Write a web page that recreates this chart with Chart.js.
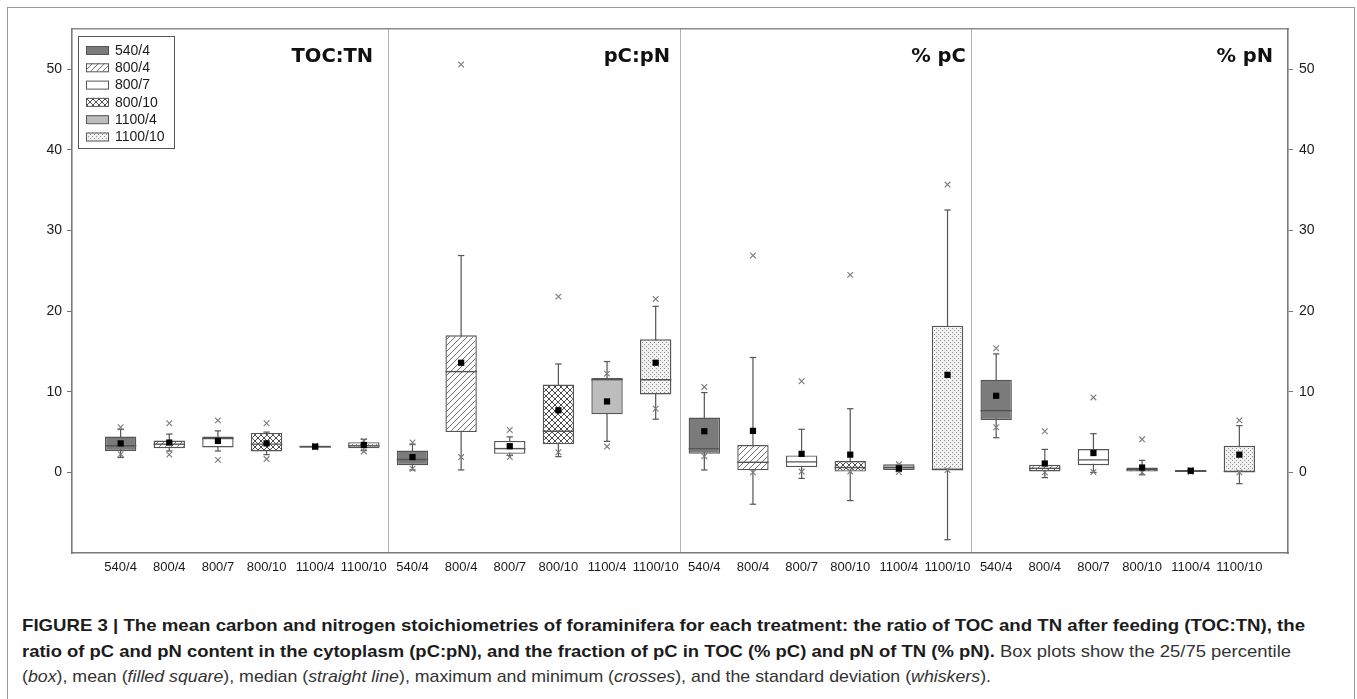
<!DOCTYPE html>
<html>
<head>
<meta charset="utf-8">
<script src="https://cdn.jsdelivr.net/npm/chart.js@4.4.1/dist/chart.umd.min.js"></script>
<style>
    html, body { margin: 0; padding: 0; background: #fff; }
    body { width: 1357px; height: 699px; position: relative; overflow: hidden; }
    #frame { position: absolute; left: 7px; top: 7px; width: 1346px; height: 720px; border: 1px solid #9a9a9a; }
    #chart-box { position: absolute; left: 0; top: 0; width: 1357px; height: 590px; }
    .cap { position: absolute; left: 22px; white-space: nowrap; line-height: 20px;
           font-family: "Liberation Sans", Arial, sans-serif; font-size: 17px; color: #333;
           transform-origin: 0 50%; }
    .cap b { color: #1c1c1c; }
</style>
</head>
<body>
<div id="frame"></div>
<div id="chart-box"><canvas id="boxChart" width="1357" height="590"></canvas></div>

<div class="cap" id="cap1" style="top:616px"><b>FIGURE 3 | The mean carbon and nitrogen stoichiometries of foraminifera for each treatment: the ratio of TOC and TN after feeding (TOC:TN), the</b></div>
<div class="cap" id="cap2" style="top:642px"><b>ratio of pC and pN content in the cytoplasm (pC:pN), and the fraction of pC in TOC (% pC) and pN of TN (% pN).</b> Box plots show the 25/75 percentile</div>
<div class="cap" id="cap3" style="top:667px">(<i>box</i>), mean (<i>filled square</i>), median (<i>straight line</i>), maximum and minimum (<i>crosses</i>), and the standard deviation (<i>whiskers</i>).</div>

<script>
// ===========================
// DATA
// ===========================

const categories = ["540/4", "800/4", "800/7", "800/10", "1100/4", "1100/10"];
const panelTitles = ["TOC:TN", "pC:pN", "% pC", "% pN"];
const yTicks = [0, 10, 20, 30, 40, 50];

// one value per box: TOC:TN (6), pC:pN (6), % pC (6), % pN (6)
const q1 = [2.66, 3.0, 3.1, 2.6, 3.05, 3.0,   0.9, 5.0, 2.3, 3.5, 7.2, 9.66,   2.3, 0.25, 0.66, 0.1, 0.3, 0.3,   6.5, 0.12, 0.9, 0.1, 0.05, 0.0];
const q3 = [4.45, 3.95, 4.45, 4.9, 3.3, 3.75,   2.7, 17.0, 3.9, 10.9, 11.7, 16.5,   6.8, 3.4, 2.1, 1.4, 1.0, 18.2,   11.5, 0.95, 2.9, 0.6, 0.3, 3.3];
const medians = [3.3, 3.5, 4.2, 3.5, 3.2, 3.3,   1.6, 12.5, 2.95, 5.1, 11.5, 11.5,   2.95, 1.25, 1.3, 0.6, 0.6, 0.35,   7.66, 0.5, 1.55, 0.35, 0.15, 0.1];
const means = [3.6, 3.7, 3.9, 3.6, 3.2, 3.4,   1.9, 13.6, 3.25, 7.7, 8.8, 13.6,   5.1, 5.15, 2.3, 2.2, 0.5, 12.1,   9.5, 1.1, 2.4, 0.6, 0.2, 2.2];
const sds = [1.75, 1.05, 1.25, 1.4, 0.15, 0.7,   1.6, 13.3, 1.15, 5.75, 4.95, 7.0,   4.8, 9.1, 3.05, 5.7, 0.4, 20.45,   5.2, 1.75, 2.4, 0.9, 0.15, 3.6];
const mins = [2.25, 2.2, 1.55, 1.65, 3.1, 2.6,   0.45, 1.9, 1.9, 2.5, 3.2, 7.9,   2.0, 0.0, 0.1, 0.1, 0.05, 0.3,   5.6, 0.0, 0.05, 0.0, 0.05, 0.0];
const maxs = [5.6, 6.1, 6.45, 6.1, 3.3, 3.9,   3.7, 50.6, 5.25, 21.8, 12.25, 21.5,   10.6, 26.9, 11.3, 24.5, 1.0, 35.7,   15.4, 5.1, 9.3, 4.1, 0.3, 6.45];

document.addEventListener("DOMContentLoaded", () => {

    // ===========================
    // HELPER
    // ===========================

    const BOX_FRACTION = 0.645;

    function makePattern(size, bg, draw) {
        const c = document.createElement("canvas");
        c.width = size;
        c.height = size;
        const g = c.getContext("2d");
        g.fillStyle = bg;
        g.fillRect(0, 0, size, size);
        if (draw) draw(g, size);
        return g.createPattern(c, "repeat");
    }

    function diag(g, s, up) {
        g.beginPath();
        for (let k = -1; k <= 1; k++) {
            if (up) {
                g.moveTo(k * s, s);
                g.lineTo(k * s + s, 0);
            } else {
                g.moveTo(k * s, 0);
                g.lineTo(k * s + s, s);
            }
        }
        g.stroke();
    }

    const fills = [
        "#7b7b7b",
        makePattern(6, "#ffffff", (g, s) => { g.strokeStyle = "#707070"; g.lineWidth = 1; diag(g, s, true); }),
        "#ffffff",
        makePattern(6, "#ffffff", (g, s) => { g.strokeStyle = "#4a4a4a"; g.lineWidth = 1; diag(g, s, true); diag(g, s, false); }),
        "#bdbdbd",
        makePattern(4, "#f1f1f1", (g) => { g.fillStyle = "#8e8e8e"; g.fillRect(0, 0, 1, 1); g.fillRect(2, 2, 1, 1); })
    ];

    function halfBox(chart) {
        const x = chart.scales.x;
        return (x.getPixelForValue(1) - x.getPixelForValue(0)) * BOX_FRACTION / 2;
    }

    const idx = q1.map((_, i) => i);

    // ===========================
    // DATASETS
    // ===========================

    const whiskerLine = [];
    idx.forEach(i => {
        whiskerLine.push({ x: i, y: means[i] - sds[i] });
        whiskerLine.push({ x: i, y: means[i] + sds[i] });
        whiskerLine.push({ x: i, y: null });
    });

    const whiskerCaps = [];
    idx.forEach(i => {
        whiskerCaps.push({ x: i, y: means[i] - sds[i] });
        whiskerCaps.push({ x: i, y: means[i] + sds[i] });
    });

    const extremes = [];
    idx.forEach(i => {
        extremes.push({ x: i, y: mins[i] });
        extremes.push({ x: i, y: maxs[i] });
    });

    // ===========================
    // PLUGIN: titles + legend
    // ===========================

    const decor = {
        id: "decor",
        afterDraw(chart) {
            const ctx = chart.ctx;
            const area = chart.chartArea;
            const x = chart.scales.x;

            // panel titles (right aligned near panel edge)
            const panelEdge = [5.5, 11.5, 17.5, 24];
            const titleGap = [15, 10, 6, 15];
            ctx.save();
            ctx.font = "bold 19.5px 'DejaVu Sans'";
            ctx.fillStyle = "#111";
            ctx.textAlign = "right";
            ctx.textBaseline = "alphabetic";
            panelTitles.forEach((t, p) => {
                const edge = x.getPixelForValue(panelEdge[p]);
                ctx.fillText(t, edge - titleGap[p], area.top + 33);
            });

            // legend
            const lx = area.left + 6;
            const ly = area.top + 7;
            ctx.fillStyle = "#fff";
            ctx.fillRect(lx, ly, 96, 112);
            ctx.strokeStyle = "#555";
            ctx.lineWidth = 1;
            ctx.strokeRect(lx + 0.5, ly + 0.5, 96, 112);

            ctx.font = "14px 'Liberation Sans', Arial";
            ctx.textAlign = "left";
            ctx.textBaseline = "middle";
            categories.forEach((c, k) => {
                const cy = ly + 14 + k * 17.3;
                ctx.fillStyle = fills[k];
                ctx.fillRect(lx + 8, cy - 4, 22, 8);
                ctx.strokeStyle = "#555";
                ctx.strokeRect(lx + 8.5, cy - 3.5, 22, 8);
                ctx.fillStyle = "#1a1a1a";
                ctx.fillText(c, lx + 37, cy + 1);
            });
            ctx.restore();
        }
    };

    // ===========================
    // CHART
    // ===========================

    const yAxis = (position, pad) => ({
        type: "linear",
        position: position,
        min: -10,
        max: 55,
        afterBuildTicks: s => { s.ticks = yTicks.map(v => ({ value: v })); },
        afterFit: s => { s.width = pad; },
        grid: { drawOnChartArea: false, drawTicks: true, tickLength: 5, color: "#777" },
        border: { display: true, color: "#7a7a7a", width: 1.6 },
        ticks: {
            padding: position === "left" ? 5 : 6,
            color: "#1a1a1a",
            font: { family: "'Liberation Sans', Arial", size: 14 }
        }
    });

    const ctx = document.getElementById("boxChart").getContext("2d");

    new Chart(ctx, {
        type: "bar",
        data: {
            datasets: [
                {
                    type: "scatter",
                    order: 1,
                    data: idx.map(i => ({ x: i, y: means[i] })),
                    pointStyle: "rect",
                    pointRadius: 4.4,
                    backgroundColor: "#000",
                    borderWidth: 0
                },
                {
                    type: "scatter",
                    order: 2,
                    data: extremes,
                    pointStyle: "crossRot",
                    pointRadius: 4,
                    borderColor: "#7a7a7a",
                    borderWidth: 1.1
                },
                {
                    type: "scatter",
                    order: 3,
                    data: idx.map(i => ({ x: i, y: medians[i] })),
                    pointStyle: "line",
                    pointRadius: c => halfBox(c.chart),
                    borderColor: "#555",
                    borderWidth: 1.4
                },
                {
                    type: "bar",
                    order: 4,
                    data: idx.map(i => ({ x: i, y: [q1[i], q3[i]] })),
                    backgroundColor: idx.map(i => fills[i % 6]),
                    borderColor: "#555",
                    borderWidth: 1.4,
                    borderSkipped: false,
                    barPercentage: BOX_FRACTION,
                    categoryPercentage: 1
                },
                {
                    type: "scatter",
                    order: 5,
                    data: whiskerCaps,
                    pointStyle: "line",
                    pointRadius: 3.2,
                    borderColor: "#555",
                    borderWidth: 1.2
                },
                {
                    type: "line",
                    order: 6,
                    data: whiskerLine,
                    borderColor: "#555",
                    borderWidth: 1.2,
                    pointRadius: 0,
                    spanGaps: false,
                    tension: 0
                }
            ]
        },
        options: {
            responsive: false,
            animation: false,
            events: [],
            layout: { padding: { top: 29, left: 0, right: 0, bottom: 0 } },
            plugins: {
                legend: { display: false },
                tooltip: { enabled: false }
            },
            scales: {
                x: {
                    type: "linear",
                    position: "bottom",
                    min: -1,
                    max: 24,
                    offset: false,
                    afterBuildTicks: s => { s.ticks = idx.map(v => ({ value: v })); },
                    afterFit: s => { s.height = 37; },
                    grid: { display: false, drawTicks: false, offset: false },
                    border: { display: true, color: "#7a7a7a", width: 1.6 },
                    ticks: {
                        autoSkip: false,
                        maxRotation: 0,
                        padding: 7,
                        color: "#1a1a1a",
                        font: { family: "'Liberation Sans', Arial", size: 13 },
                        callback: v => categories[v % 6]
                    }
                },
                // panel dividers
                xd: {
                    type: "linear",
                    position: "bottom",
                    min: -1,
                    max: 24,
                    offset: false,
                    afterBuildTicks: s => { s.ticks = [5.5, 11.5, 17.5].map(v => ({ value: v })); },
                    afterFit: s => { s.height = 0; },
                    grid: { drawOnChartArea: true, drawTicks: false, offset: false, color: "#b3b3b3", lineWidth: 1 },
                    border: { display: false },
                    ticks: { display: false }
                },
                // top frame line
                top: {
                    type: "linear",
                    position: "top",
                    min: -1,
                    max: 24,
                    offset: false,
                    afterFit: s => { s.height = 0; },
                    grid: { display: false, offset: false },
                    border: { display: true, color: "#8a8a8a", width: 1.4 },
                    ticks: { display: false }
                },
                y: yAxis("left", 72),
                y2: yAxis("right", 69)
            }
        },
        plugins: [decor]
    });

    // ===========================
    // CAPTION WIDTHS
    // ===========================

    const capWidths = { cap1: 1283, cap2: 1269, cap3: 969 };
    Object.keys(capWidths).forEach(id => {
        const el = document.getElementById(id);
        const w = el.getBoundingClientRect().width;
        el.style.transform = "scaleX(" + (capWidths[id] / w) + ")";
    });

});
</script>
</body>
</html>
